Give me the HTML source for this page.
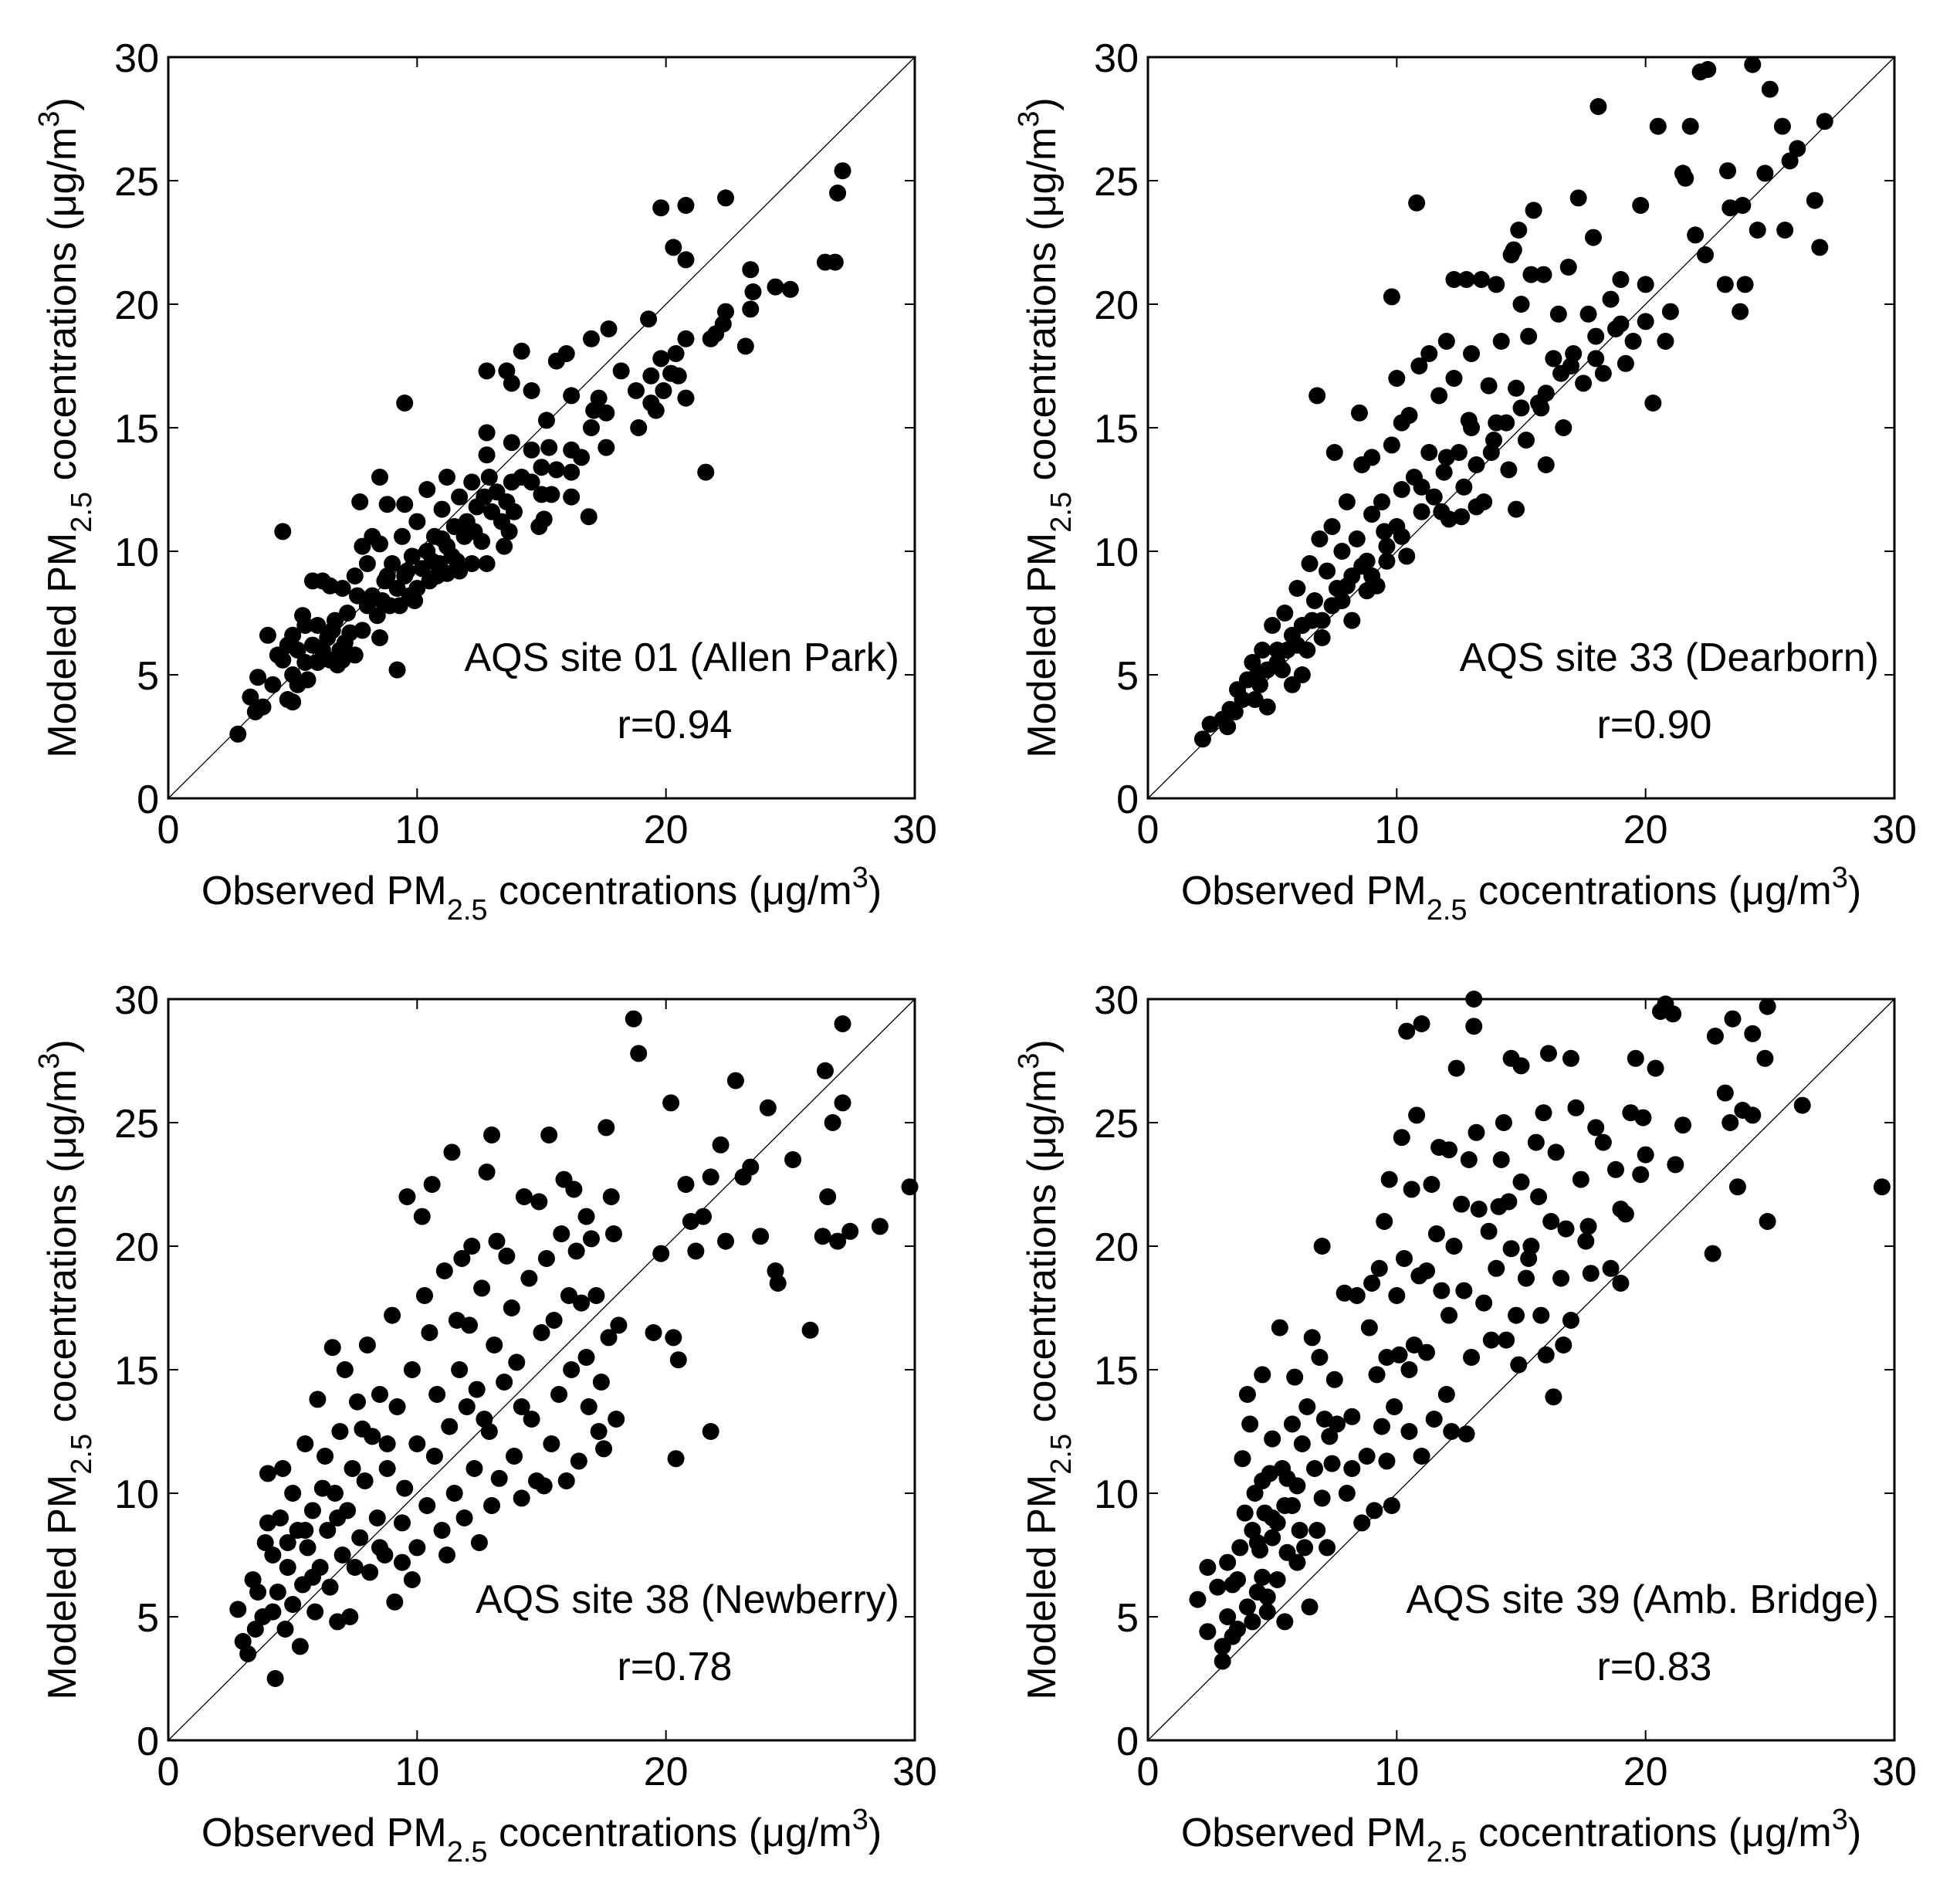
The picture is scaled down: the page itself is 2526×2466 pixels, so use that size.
<!DOCTYPE html>
<html><head><meta charset="utf-8"><style>
html,body{margin:0;padding:0;background:#fff}
svg{display:block}
text{font-family:"Liberation Sans",Arial,sans-serif;fill:#000}
</style></head><body>
<svg id="fig" width="2526" height="2466" viewBox="0 0 2526 2466" xmlns="http://www.w3.org/2000/svg">
<rect width="2526" height="2466" fill="#fff"/>
</svg>
<script>
const xTicks=[0,10,20,30];
const yTicks=[0,5,10,15,20,25,30];
const siteNames=["AQS site 01 (Allen Park)","AQS site 33 (Dearborn)","AQS site 38 (Newberry)","AQS site 39 (Amb. Bridge)"];
const rValues=["r=0.94","r=0.90","r=0.78","r=0.83"];
const site01=[[2.8,2.6],[3.3,4.1],[3.5,3.5],[3.8,3.7],[3.6,4.9],[4,6.6],[4.2,4.6],[4.6,10.8],[4.8,4.0],[5,3.9],[9.2,5.2],[9.5,16],[8.5,13],[8.8,11.9],[7.7,12],[9.5,11.9],[10.4,12.5],[11.2,13],[12.8,17.3],[13.6,17.3],[14.2,18.1],[13.8,16.8],[14.6,16.5],[15.2,15.3],[15.6,17.7],[16,18],[16.2,16.3],[17,18.6],[17.7,19],[18.2,17.3],[18.8,16.5],[18.9,15],[19.3,19.4],[19.4,17.1],[19.4,16],[19.6,15.7],[19.8,17.8],[19.9,16.5],[20.2,17.2],[20.4,18],[20.5,17.1],[20.8,16.2],[20.8,18.6],[21.8,18.6],[22,18.8],[22.4,19.7],[22.3,19.2],[22.4,24.3],[23.2,18.3],[23.4,21.4],[23.4,19.8],[23.5,20.5],[24.4,20.7],[25,20.6],[26.4,21.7],[26.8,21.7],[26.9,24.5],[27.1,25.4],[19.8,23.9],[20.8,24],[20.3,22.3],[20.8,21.8],[21.6,13.2],[17.6,14.2],[16.9,11.4],[16.2,12.2],[16.2,13.2],[16.6,13.8],[16.2,14.1],[17,15],[17.1,15.7],[17.3,16.2],[17.6,15.6],[15.1,11.3],[14.9,11],[15,12.3],[15.4,12.3],[15.6,13.3],[14.6,14.1],[15.3,14.2],[14.2,13],[14.6,12.8],[15,13.4],[13.8,14.4],[12.8,14.8],[12.8,13.9],[13.5,10.2],[13.7,10.8],[12.8,9.5],[12.2,9.5],[11.7,9.2],[11.2,9.1],[11,10.5],[5,5],[5.2,6],[5.5,5.5],[5.5,7],[5.8,6.2],[6,5.5],[6,7],[6.2,8.8],[6.4,6.5],[6.5,5.6],[6.7,7.2],[6.9,6],[7,8.5],[7,5.6],[7.2,7.5],[7.3,6.7],[7.5,9],[7.6,8.2],[7.8,6.8],[7.8,10.2],[8,7.8],[8,9.5],[8.2,8.2],[8.4,7.4],[8.5,10.3],[8.5,6.5],[8.7,8.8],[8.9,7.8],[9,9.5],[9.2,8.5],[9.3,7.8],[9.4,10.6],[9.5,9],[9.7,8.2],[9.8,9.8],[10,8.5],[10,11.2],[10.2,9.3],[10.4,10],[10.5,8.8],[10.7,10.6],[10.9,9.5],[11,11.7],[11.2,10.2],[11.4,9.8],[11.5,11],[11.7,12.2],[11.9,10.6],[12,11.2],[12.2,12.8],[12.4,11.8],[12.6,10.4],[12.7,12.2],[12.9,13],[13,11.6],[13.2,12.4],[13.4,11.2],[13.6,12],[13.8,12.8],[13.9,11.6],[4.6,5.6],[4.8,6.2],[5.2,4.6],[5.6,4.8],[6.5,8.6],[8.2,10.6],[5.8,8.8],[6.8,5.4],[7.5,5.8],[4.4,5.8],[5.4,7.4],[8.8,9.0],[9.6,9.2],[10.8,9.0],[11.6,9.6],[6.2,6.0],[7.1,6.3],[8.6,8.0],[9.9,8.0],[10.6,9.6],[12.3,10.8],[5.0,6.6],[6.6,6.8]];
const site33=[[2.2,2.4],[2.5,3],[3,3.2],[3.3,3.6],[3.5,3.5],[3.8,4],[4,4.8],[4.2,5.5],[4.5,4.6],[4.6,6],[4.8,5.2],[5,7],[5.2,6],[5.4,5.2],[5.5,7.5],[5.8,6.6],[6,8.5],[6.2,7],[6.4,6],[6.5,9.5],[6.7,8],[6.9,10.5],[7,7.2],[7.2,9.2],[7.4,11],[7.6,8.5],[7.8,10],[8,12],[8.2,9],[8.4,10.5],[8.6,13.5],[8.8,9.6],[9,11.5],[9.2,8.6],[9.4,12],[9.6,10.2],[9.8,14.3],[10,11],[10.2,12.5],[10.4,9.8],[10.5,15.5],[10.7,13],[10.9,17.5],[11,11.6],[11.3,14],[11.5,12.2],[11.7,16.3],[11.9,13.2],[12.1,11.3],[12.3,17],[12.5,14],[12.7,12.6],[12.9,15.3],[13,18],[13.2,13.5],[13.4,21],[13.5,12],[13.7,16.7],[13.9,14.5],[14,20.8],[14.2,18.5],[14.4,15.2],[14.5,13.3],[14.6,22],[14.8,16.6],[15,20],[15.2,14.5],[15.3,18.7],[15.5,23.8],[15.7,16],[15.9,21.2],[16,13.5],[16.3,17.8],[16.5,19.6],[16.7,15],[16.9,21.5],[17.1,18],[17.3,24.3],[17.5,16.8],[17.7,19.6],[17.9,22.7],[18,18.7],[18.1,28],[18.3,17.2],[18.6,20.2],[18.8,19],[19,21],[19.2,17.6],[19.5,18.5],[19.8,24],[20,20.8],[20.3,16],[20.5,27.2],[20.8,18.5],[21,19.7],[21.5,25.3],[21.8,27.2],[22,22.8],[22.2,29.4],[22.4,22],[22.5,29.5],[23.2,20.8],[23.4,23.9],[23.8,19.7],[23.9,24],[24,20.8],[24.3,29.7],[24.5,23],[24.8,25.3],[25,28.7],[25.5,27.2],[25.6,23],[25.8,25.8],[26.1,26.3],[26.8,24.2],[27,22.3],[27.2,27.4],[23.3,25.4],[21.6,25.1],[10.8,24.1],[12.3,21],[12.8,21],[14.7,22.2],[14.9,23],[15.4,21.2],[9.8,20.3],[10,17],[6.8,16.3],[8.5,15.6],[7.5,14],[12,18.5],[11.3,18],[10.2,15.2],[9,13.8],[5.2,5.5],[5.8,4.6],[6.2,5],[4.3,4],[4.8,3.7],[3.2,2.9],[6,6.2],[7,6.5],[7.4,7.8],[8,8.6],[8.2,7.2],[8.6,9.4],[9,9],[9.5,10.8],[10.2,10.6],[11,12.6],[12,13.8],[13,15],[14,15.2],[15,15.8],[16,16.4],[17,17.5],[18,17.8],[19,19.2],[20,19.3],[11.8,11.6],[12.6,11.4],[13.2,11.8],[14.8,11.7],[13.8,14],[15.8,15.8],[16.6,17.2],[3.6,4.4],[4.4,5.0],[5.6,6.0],[6.6,7.2],[7.8,8.0],[8.8,8.4],[9.6,9.6]];
const site38=[[2.8,5.3],[3,4],[3.2,3.5],[3.4,6.5],[3.5,4.5],[3.8,5],[3.9,8],[4,10.8],[4.2,7.5],[4.3,2.5],[4.4,6],[4.5,9],[4.6,11],[4.7,4.5],[4.8,7],[5,5.5],[5,10],[5.2,8.5],[5.3,3.8],[5.4,6.3],[5.5,12],[5.6,7.8],[5.8,9.3],[5.9,5.2],[6,13.8],[6.1,7],[6.3,11.5],[6.4,8.5],[6.5,6.2],[6.6,15.9],[6.7,10],[6.8,4.8],[6.9,12.5],[7,7.5],[7.1,15],[7.2,9.3],[7.3,5],[7.4,11],[7.6,13.7],[7.7,8.2],[7.9,10.5],[8,16],[8.1,6.8],[8.2,12.3],[8.4,9],[8.5,14],[8.7,7.5],[8.8,11],[9,17.2],[9.1,5.6],[9.2,13.5],[9.4,8.8],[9.5,10.2],[9.6,22],[9.8,15],[10,7.8],[10,12],[10.2,21.2],[10.3,18],[10.4,9.5],[10.5,16.5],[10.6,22.5],[10.7,11.5],[10.8,14],[11,8.5],[11.1,19],[11.3,12.7],[11.4,23.8],[11.5,10],[11.6,17],[11.7,15],[11.8,19.5],[11.9,9],[12,13.5],[12.1,16.8],[12.2,20],[12.3,11],[12.4,14.2],[12.5,8],[12.6,18.3],[12.8,23],[12.9,12.5],[13,24.5],[13.1,16],[13.2,20.2],[13.3,10.6],[13.5,14.5],[13.6,19.6],[13.8,17.5],[13.9,11.5],[14,15.3],[14.2,9.8],[14.3,22],[14.5,18.7],[14.6,13],[14.8,10.5],[14.9,21.8],[15,16.5],[15.2,19.5],[15.3,24.5],[15.4,12],[15.5,17],[15.7,14],[15.8,20.5],[15.9,22.7],[16,10.5],[16.1,18],[16.2,15],[16.3,22.3],[16.4,19.8],[16.5,11.3],[16.6,17.7],[16.8,21.2],[16.9,13.5],[17,20.3],[17.2,18],[17.3,12.5],[17.4,14.5],[17.5,11.8],[17.6,24.8],[17.7,16.3],[17.8,22],[17.9,20.5],[18,13],[18.1,16.8],[18.7,29.2],[18.9,27.8],[19.5,16.5],[19.8,19.7],[20.2,25.8],[20.3,16.3],[20.4,11.4],[20.5,15.4],[20.8,22.5],[21.2,19.8],[21.5,21.2],[21.8,22.8],[21.8,12.5],[22.2,24.1],[22.4,20.2],[22.8,26.7],[23.1,22.8],[23.4,23.2],[23.8,20.4],[24.1,25.6],[24.4,19],[24.5,18.5],[25.1,23.5],[25.8,16.6],[26.3,20.4],[26.4,27.1],[26.5,22],[26.7,25],[26.9,20.2],[27.1,29],[27.1,25.8],[27.4,20.6],[28.6,20.8],[29.8,22.4],[21,21],[5.5,8.5],[6.2,10.2],[7.5,7],[8.5,7.8],[4.8,8],[9.8,6.5],[11.2,7.5],[13,9.5],[15.1,10.3],[16.8,15.5],[12.7,13],[14.2,13.5],[3.6,6.0],[4.2,5.2],[5.8,6.6],[6.8,9.0],[7.8,12.6],[8.8,12.0],[9.4,7.2],[4.0,8.8]];
const site39=[[2,5.7],[2.4,7],[2.4,4.4],[2.8,6.2],[3,3.2],[3,3.8],[3.2,5],[3.2,7.2],[3.4,6.3],[3.6,4.5],[3.7,7.8],[3.8,11.4],[3.9,9.2],[4,14],[4,5.4],[4.1,12.8],[4.2,8.5],[4.3,10],[4.4,6],[4.5,7.7],[4.6,14.8],[4.7,9.2],[4.8,5.2],[4.9,10.8],[5,8.2],[5,12.2],[5.2,6.5],[5.3,16.7],[5.4,11],[5.5,4.8],[5.5,9.5],[5.6,7.6],[5.8,12.8],[5.9,14.7],[6,10.3],[6.1,8.5],[6.2,12],[6.4,13.5],[6.5,5.4],[6.6,16.3],[6.7,11],[6.9,15.5],[7,20],[7,9.8],[7.1,13],[7.2,7.8],[7.4,11.2],[7.5,14.6],[7.6,12.8],[7.9,18.1],[8,10],[8.2,13.1],[8.4,18],[8.6,8.8],[8.8,11.5],[8.9,16.7],[9,18.5],[9.1,9.3],[9.3,19.1],[9.4,12.7],[9.5,21],[9.6,15.5],[9.6,11.3],[9.7,22.7],[9.8,9.5],[9.9,13.5],[10,18],[10.1,15.6],[10.2,24.4],[10.3,19.5],[10.4,28.7],[10.5,12.5],[10.6,22.3],[10.7,16],[10.8,25.3],[10.9,18.8],[11,29],[11,11.5],[11.2,15.7],[11.4,22.5],[11.5,13],[11.6,20.5],[11.7,24],[11.8,18.2],[12,14],[12.1,23.9],[12.2,12.5],[12.3,20],[12.4,27.2],[12.6,21.7],[12.7,18.2],[12.8,12.4],[12.9,23.5],[13,15.5],[13.1,30],[13.1,28.9],[13.2,24.6],[13.3,21.5],[13.5,17.7],[13.7,20.6],[13.8,16.2],[14,19.1],[14.2,23.5],[14.3,25],[14.4,16.2],[14.5,21.8],[14.6,27.6],[14.6,19.9],[14.8,17.2],[14.9,15.2],[15,22.6],[15,27.3],[15.2,18.7],[15.4,20],[15.6,24.2],[15.7,22],[15.8,17.2],[15.9,25.4],[16,15.6],[16.1,27.8],[16.2,21],[16.3,13.9],[16.4,23.8],[16.6,18.7],[16.7,16],[16.8,20.7],[17,27.6],[17,17],[17.2,25.6],[17.4,22.7],[17.6,20.2],[17.8,18.9],[18,24.8],[18.3,24.2],[18.6,19.1],[18.8,23.1],[19,18.5],[19.2,21.3],[19.4,25.4],[19.6,27.6],[19.8,22.9],[19.9,25.2],[20,23.7],[20.4,27.2],[20.6,29.5],[20.8,29.8],[21.1,29.4],[21.2,23.3],[21.5,24.9],[22.7,19.7],[22.8,28.5],[23.2,26.2],[23.4,25],[23.5,29.2],[23.7,22.4],[23.9,25.5],[24.3,28.6],[24.3,25.3],[24.8,27.6],[24.9,29.7],[24.9,21],[26.3,25.7],[29.5,22.4],[4.8,5.8],[5.2,8.8],[3.6,6.5],[4.2,4.8],[4.6,10.5],[5.8,9.5],[6.3,7.8],[6.8,8.5],[7.3,12.3],[8.2,11],[9.2,14.8],[10.5,15],[11.2,19],[12.1,17.2],[14.1,21.6],[15.3,19.5],[17.7,20.8],[19,21.5],[4.4,8.0],[5.0,9.0],[5.6,10.6],[6.0,7.2],[4.6,6.6],[3.4,4.2]];
const panelData=[site01,site33,site38,site39];
const NS="http://www.w3.org/2000/svg";
const svg=document.getElementById('fig');
function mk(tag,attrs,parent){const e=document.createElementNS(NS,tag);for(const k in attrs)e.setAttribute(k,attrs[k]);parent.appendChild(e);return e;}
const W=967,H=960,offsets=[[218,74],[1487,74],[218,1294],[1487,1294]];
const names=["allen-park","dearborn","newberry","amb-bridge"];
panelData.forEach((pts,i)=>{
  const [L,T]=offsets[i];
  const sx=v=>L+v/30*W, sy=v=>T+H-v/30*H;
  const g=mk('g',{},svg);
  
  
  const diag=mk('line',{x1:sx(0),y1:sy(0),x2:sx(30),y2:sy(30),stroke:'#000','stroke-width':1.3},g);
  
  
  pts.forEach(p=>{
    const c=mk('circle',{cx:sx(p[0]),cy:sy(p[1]),r:11},g);
    
    
  });
  const box=mk('rect',{x:L,y:T,width:W,height:H,fill:'none',stroke:'#000','stroke-width':3},g);
  
  
  xTicks.forEach(v=>{
    mk('line',{x1:sx(v),y1:T+H,x2:sx(v),y2:T+H-13,stroke:'#000','stroke-width':2},g);
    mk('line',{x1:sx(v),y1:T,x2:sx(v),y2:T+13,stroke:'#000','stroke-width':2},g);
    const t=mk('text',{x:sx(v),y:T+H+58,'font-size':52,'text-anchor':'middle'},g);
    t.textContent=v;
    
    
  });
  yTicks.forEach(v=>{
    mk('line',{x1:L,y1:sy(v),x2:L+13,y2:sy(v),stroke:'#000','stroke-width':2},g);
    mk('line',{x1:L+W,y1:sy(v),x2:L+W-13,y2:sy(v),stroke:'#000','stroke-width':2},g);
    const t=mk('text',{x:L-12,y:sy(v)+19,'font-size':52,'text-anchor':'end'},g);
    t.textContent=v;
    
    
  });
  const xl=mk('text',{x:L+W/2,y:T+H+137,'font-size':52,'text-anchor':'middle'},g);
  
  
  xl.innerHTML='Observed PM<tspan dy="20" font-size="38">2.5</tspan><tspan dy="-20"> cocentrations (μg/m</tspan><tspan dy="-22" font-size="38">3</tspan><tspan dy="22">)</tspan>';
  const yl=mk('text',{x:0,y:0,'font-size':52,'text-anchor':'middle',transform:`translate(${L-120},${T+H/2}) rotate(-90)`},g);
  
  
  yl.innerHTML='Modeled PM<tspan dy="20" font-size="38">2.5</tspan><tspan dy="-20"> cocentrations (μg/m</tspan><tspan dy="-22" font-size="38">3</tspan><tspan dy="22">)</tspan>';
  const s=mk('text',{x:L+W-20,y:T+795,'font-size':52,'text-anchor':'end'},g);
  s.textContent=siteNames[i];
  
  
  const r=mk('text',{x:L+656,y:T+882,'font-size':52,'text-anchor':'middle'},g);
  r.textContent=rValues[i];
  
  
});
</script>
</body></html>
